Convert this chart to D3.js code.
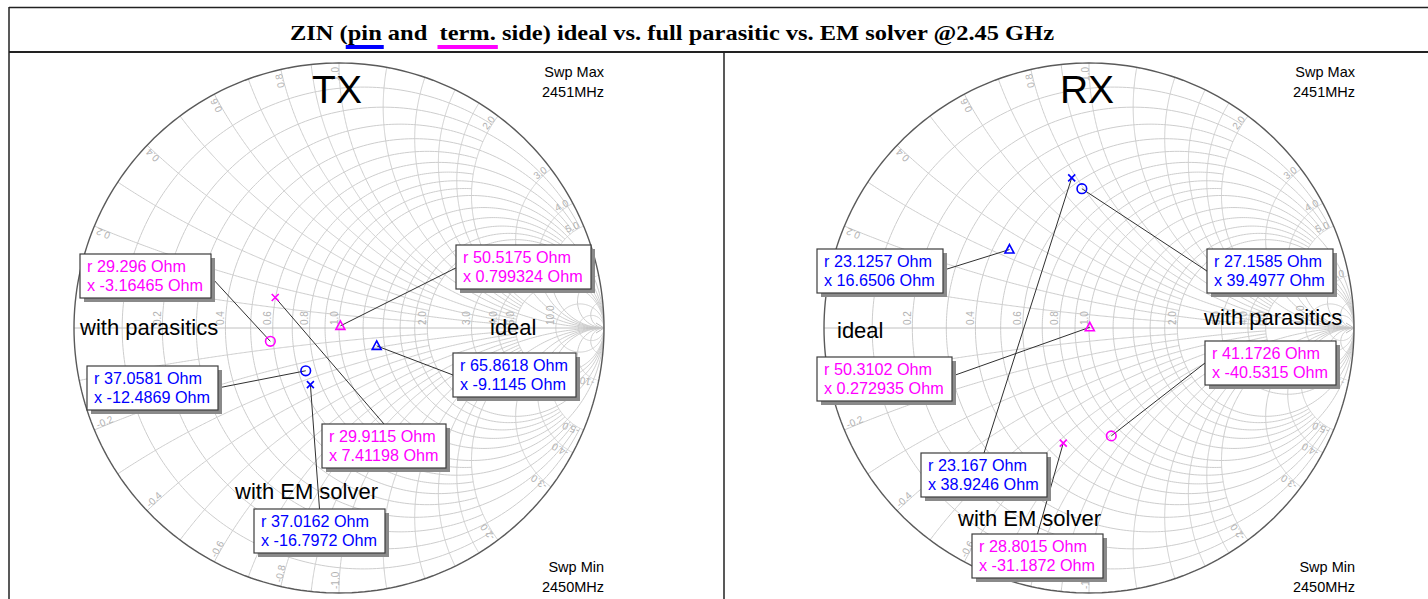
<!DOCTYPE html>
<html><head><meta charset="utf-8">
<script src="https://cdn.jsdelivr.net/npm/d3@7"></script>
<style>body{margin:0;background:#fff}svg{display:block}</style>
</head><body>
<script>
// Input impedance (Ohm) at 2.45 GHz, one entry per model
const SERIES = ["ideal", "with parasitics", "with EM solver"];
const SIDES = ["pin", "term."];
const txPinR  = [65.8618, 37.0581, 37.0162];
const txPinX  = [-9.1145, -12.4869, -16.7972];
const txTermR = [50.5175, 29.296, 29.9115];
const txTermX = [0.799324, -3.16465, 7.41198];
const rxPinR  = [23.1257, 27.1585, 23.167];
const rxPinX  = [16.6506, 39.4977, 38.9246];
const rxTermR = [50.3102, 41.1726, 28.8015];
const rxTermX = [0.272935, -40.5315, -31.1872];
const Z0 = 50;
const SWEEP_MAX = "2451MHz";
const SWEEP_MIN = "2450MHz";
const TITLE = "ZIN (pin and  term. side) ideal vs. full parasitic vs. EM solver @2.45 GHz";

// Normalised Smith grid values
const R_TICKS = [0.2, 0.4, 0.6, 0.8, 1.0, 2.0, 3.0, 4.0, 5.0, 10.0];
const X_TICKS = [0.2, 0.4, 0.6, 0.8, 1.0, 2.0, 3.0, 4.0, 5.0, 10.0];
const GRID_FINE = [0.1, 0.3, 0.5, 0.7, 0.9];
const GRID_MID = [1.2, 1.4, 1.6, 1.8];
const GRID_OUTER = [20];

const W = 1428, H = 599;
const BLUE = "#0000ff", MAGENTA = "#ff00ff";
const SANS = "'Liberation Sans', Arial, sans-serif";

const svg = d3.select("body").append("svg")
  .attr("width", W).attr("height", H)
  .style("font-family", SANS);
svg.append("rect").attr("width", W).attr("height", H).attr("fill", "#fff");

// reflection coefficient of a normalised impedance r + jx
const gamma = (r, x) => {
  const d = (r + 1) * (r + 1) + x * x;
  return [(r * r - 1 + x * x) / d, 2 * x / d];
};
// constant-resistance circle, limited to |x| <= xmax
function rCurve(r, xmax) {
  const a = 1 / (1 + r), c = r * a;
  const phi0 = isFinite(xmax) ? 2 * Math.atan((1 + r) / xmax) : 0;
  const n = 260, pts = [];
  for (let i = 0; i <= n; i++) {
    const phi = phi0 + (2 * Math.PI - 2 * phi0) * i / n;
    pts.push([c + a * Math.cos(phi), a * Math.sin(phi)]);
  }
  return pts;
}
// constant-reactance arc from r = 0 up to rmax
function xCurve(x, rmax) {
  const n = 260, pts = [];
  const t1 = isFinite(rmax) ? Math.atan(rmax) : Math.PI / 2;
  for (let i = 0; i <= n; i++) {
    if (i === n && !isFinite(rmax)) { pts.push([1, 0]); break; }
    pts.push(gamma(Math.tan(t1 * i / n), x));
  }
  return pts;
}
const rLimit = r => GRID_FINE.includes(r) ? 2 : (GRID_MID.includes(r) || r < 1) ? 5 : Infinity;

// per-panel layout: box corners with leader anchor side, annotation positions per model
const PANELS = [
  { name: "TX", cx: 339, cy: 328, R: 265, right: 604,
    pinR: txPinR, pinX: txPinX, termR: txTermR, termX: txTermX,
    boxes: { pin: [[453, 353, "left", 0.5], [87, 366, "right", 0.49], [254, 509, "top", 0.5]],
             term: [[456, 245, "left", 0.52], [80, 254, "right", 0.57], [322, 424, "top", 0.5]] },
    notes: [[490, 335], [80, 335], [235, 499]] },
  { name: "RX", cx: 1089, cy: 328, R: 265, right: 1355,
    pinR: rxPinR, pinX: rxPinX, termR: rxTermR, termX: rxTermX,
    boxes: { pin: [[817, 249, "right", 0.47], [1207, 249, "left", 0.5], [921, 453, "top", 0.5]],
             term: [[817, 357, "right", 0.42], [1205, 341, "left", 0.5], [972, 534, "top", 0.5]] },
    notes: [[837, 338], [1204, 325], [958, 526]] }
];

PANELS.forEach((p, pi) => {
  const sx = d3.scaleLinear().domain([-1, 1]).range([p.cx - p.R, p.cx + p.R]);
  const sy = d3.scaleLinear().domain([-1, 1]).range([p.cy + p.R, p.cy - p.R]);
  const line = d3.line().x(d => sx(d[0])).y(d => sy(d[1]));
  const g = svg.append("g");

  const clipId = "clip" + pi;
  g.append("clipPath").attr("id", clipId).append("circle")
    .attr("cx", sx(0)).attr("cy", sy(0)).attr("r", sx(1) - sx(0));
  const grid = g.append("g").attr("clip-path", `url(#${clipId})`)
    .attr("fill", "none").attr("stroke", "#cdcdcd").attr("stroke-width", 1);

  const rVals = [...GRID_FINE, ...GRID_MID, ...R_TICKS, ...GRID_OUTER];
  rVals.forEach(r => grid.append("path").attr("d", line(rCurve(r, rLimit(r)))));
  const xVals = [...GRID_FINE, ...GRID_MID, ...X_TICKS, ...GRID_OUTER];
  xVals.forEach(x => {
    [1, -1].forEach(s => grid.append("path").attr("d", line(xCurve(s * x, rLimit(x)))));
  });
  // real axis with arrow head
  g.append("line").attr("x1", sx(-1)).attr("x2", sx(1)).attr("y1", sy(0)).attr("y2", sy(0))
    .attr("stroke", "#c0c0c0").attr("stroke-width", 1);
  g.append("path").attr("d", `M${sx(1) - 8},${sy(0) - 5}L${sx(1)},${sy(0)}L${sx(1) - 8},${sy(0) + 5}`)
    .attr("fill", "none").attr("stroke", "#bdbdbd").attr("stroke-width", 1);
  // outer boundary |Γ| = 1
  g.append("path").attr("d", line(rCurve(0, Infinity)))
    .attr("fill", "none").attr("stroke", "#5a5a5a").attr("stroke-width", 1.4);

  // resistance labels along the real axis
  const lab = g.append("g").attr("fill", "#b2b2b2").attr("font-size", 10);
  R_TICKS.forEach(r => {
    const gx = sx(gamma(r, 0)[0]) - 1.5, gy = sy(0) - 3;
    lab.append("text").attr("transform", `translate(${gx},${gy}) rotate(-90)`)
      .text(d3.format(".1f")(r));
  });
  // reactance labels just inside the boundary
  X_TICKS.forEach(x => {
    [1, -1].forEach(s => {
      const b = gamma(0, s * x);
      const th = Math.atan2(b[1], b[0]);
      const rr = 1 - 4 / p.R;
      const px = sx(rr * Math.cos(th)), py = sy(rr * Math.sin(th));
      const deg = -th * 180 / Math.PI;
      lab.append("text")
        .attr("transform", `translate(${px},${py}) rotate(${s > 0 ? deg : deg - 180})`)
        .attr("text-anchor", s > 0 ? "end" : "start")
        .text((s < 0 ? "-" : "") + d3.format(".1f")(x));
    });
  });

  // markers, leader lines and value boxes
  const shapes = ["triangle", "circle", "cross"];
  const sets = [
    { side: "pin", R: p.pinR, X: p.pinX, color: BLUE },
    { side: "term", R: p.termR, X: p.termX, color: MAGENTA }
  ];
  const leaders = g.append("g").attr("stroke", "#303030").attr("stroke-width", 1);
  const marks = g.append("g").attr("fill", "none").attr("stroke-width", 1.6);
  const boxes = g.append("g");
  sets.forEach(set => {
    SERIES.forEach((name, i) => {
      const gm = gamma(set.R[i] / Z0, set.X[i] / Z0);
      const mx = sx(gm[0]), my = sy(gm[1]);
      const [bx, by, side, f] = p.boxes[set.side][i];

      const bg = boxes.append("g").attr("transform", `translate(${bx},${by})`);
      const shadow = bg.append("rect");
      const frame = bg.append("rect");
      const lines = [`r ${set.R[i]} Ohm`, `x ${set.X[i]} Ohm`];
      let tw = 0;
      lines.forEach((t, k) => {
        const te = bg.append("text").attr("x", 7).attr("y", 18 + k * 19)
          .attr("font-size", 16.2).attr("fill", set.color).text(t);
        tw = Math.max(tw, te.node().getComputedTextLength());
      });
      const bw = Math.round(tw + 15), bh = 44;
      shadow.attr("x", 4).attr("y", 4).attr("width", bw).attr("height", bh).attr("fill", "#8a8a8a");
      frame.attr("width", bw).attr("height", bh).attr("fill", "#fff")
        .attr("stroke", "#3c3c3c").attr("stroke-width", 1.2);

      let ax, ay;
      if (side === "left") { ax = bx; ay = by + f * bh; }
      else if (side === "right") { ax = bx + bw + 2; ay = by + f * bh; }
      else { ax = bx + f * bw; ay = by; }
      leaders.append("line").attr("x1", ax).attr("y1", ay).attr("x2", mx).attr("y2", my);

      const m = marks.append("g").attr("transform", `translate(${mx},${my})`).attr("stroke", set.color);
      if (shapes[i] === "triangle") m.append("path").attr("d", "M0,-5L4.5,3.5L-4.5,3.5Z");
      else if (shapes[i] === "circle") m.append("circle").attr("r", 4.8);
      else m.append("path").attr("d", "M-3.5,-3.5L3.5,3.5M3.5,-3.5L-3.5,3.5");
    });
  });

  // model annotations
  const notes = g.append("g").attr("font-size", 22).attr("fill", "#000");
  SERIES.forEach((name, i) => notes.append("text").attr("x", p.notes[i][0]).attr("y", p.notes[i][1]).text(name));

  g.append("text").attr("x", p.cx - 2).attr("y", 103).attr("text-anchor", "middle")
    .attr("font-size", 39).text(p.name);

  const sw = g.append("g").attr("font-size", 14.5).attr("text-anchor", "end");
  sw.append("text").attr("x", p.right).attr("y", 77).text("Swp Max");
  sw.append("text").attr("x", p.right).attr("y", 97).text(SWEEP_MAX);
  sw.append("text").attr("x", p.right).attr("y", 572).text("Swp Min");
  sw.append("text").attr("x", p.right).attr("y", 592).text(SWEEP_MIN);
});

// frame
const frame = svg.append("g").attr("stroke", "#222");
frame.append("line").attr("x1", 9).attr("x2", W).attr("y1", 7.5).attr("y2", 7.5).attr("stroke-width", 1.5);
frame.append("line").attr("x1", 9).attr("x2", W).attr("y1", 52).attr("y2", 52).attr("stroke-width", 2);
frame.append("line").attr("x1", 9).attr("x2", 9).attr("y1", 7).attr("y2", H).attr("stroke-width", 1.5);
frame.append("line").attr("x1", 724).attr("x2", 724).attr("y1", 52).attr("y2", H).attr("stroke-width", 1.5);

// title with colour keys under the two side names
const title = svg.append("text").attr("x", 672).attr("y", 40).attr("text-anchor", "middle")
  .attr("font-family", "'Liberation Serif', 'Times New Roman', serif")
  .attr("font-weight", "bold").attr("font-size", 22)
  .attr("textLength", 764).attr("lengthAdjust", "spacingAndGlyphs")
  .style("white-space", "pre").text(TITLE);
const tn = title.node();
[BLUE, MAGENTA].forEach((col, k) => {
  const word = SIDES[k];
  const i0 = TITLE.indexOf(word);
  const x0 = tn.getStartPositionOfChar(i0).x;
  const x1 = tn.getEndPositionOfChar(i0 + word.length - 1).x;
  svg.append("rect").attr("x", x0 - 2).attr("y", 45).attr("width", x1 - x0 + 4).attr("height", 4).attr("fill", col);
});
</script>
</body></html>
